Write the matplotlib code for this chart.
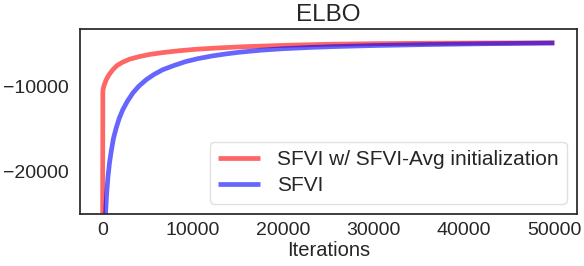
import matplotlib
matplotlib.use("Agg")
import matplotlib.pyplot as plt
import seaborn as sns

sns.set_style("white")
plt.rcParams['font.family'] = ['Liberation Sans', 'DejaVu Sans']

# Data
iters_avg = [0, 30, 60, 120, 250, 400, 700, 1130, 1600, 2240, 3000, 4080, 5200,
             6650, 8300, 10330, 12500, 15120, 18000, 21000, 25000, 30000, 36000,
             42000, 50000]
elbo_avg = [-26000, -10550, -10300, -10000, -9600, -9180, -8600, -8000, -7500,
            -7100, -6750, -6450, -6200, -5980, -5780, -5590, -5450, -5310,
            -5200, -5100, -5000, -4930, -4880, -4850, -4830]

iters_sfvi = [300, 330, 450, 590, 760, 960, 1200, 1510, 1850, 2240, 2750, 3350,
              4000, 4820, 5700, 6650, 7900, 9230, 10600, 12170, 13700, 15120,
              17500, 20000, 23000, 26000, 30000, 36000, 42000, 50000]
elbo_sfvi = [-26000, -24840, -22600, -20660, -19000, -17570, -16100, -14840,
             -13700, -12700, -11700, -10740, -9950, -9180, -8550, -8000, -7500,
             -7030, -6680, -6370, -6130, -5940, -5700, -5520, -5370, -5260,
             -5150, -5030, -4940, -4850]

label_avg = "SFVI w/ SFVI-Avg initialization"
label_sfvi = "SFVI"

fig = plt.figure(figsize=(5.84, 2.66), dpi=100)
ax = fig.add_axes([0.137, 0.1955, 0.851, 0.6955])

ax.plot(iters_avg, elbo_avg, color='red', alpha=0.6, lw=3.4, label=label_avg,
        solid_capstyle='butt')
ax.plot(iters_sfvi, elbo_sfvi, color='blue', alpha=0.6, lw=3.4, label=label_sfvi,
        solid_capstyle='butt')

ax.set_xlim(-2500, 52500)
ax.set_ylim(-25000, -3200)
ax.set_xticks([0, 10000, 20000, 30000, 40000, 50000])
ax.set_yticks([-20000, -10000])
ax.tick_params(axis='both', labelsize=14, colors='.15', length=0)
ax.tick_params(axis='x', pad=6)
ax.tick_params(axis='y', pad=8)
ax.set_title("ELBO", fontsize=17.5, color='.15', pad=6)
ax.set_xlabel("Iterations", fontsize=14.5, color='.15', labelpad=1)
for s in ax.spines.values():
    s.set_color('.15')
    s.set_linewidth(1.25)

leg = ax.legend(loc='lower right', fontsize=15, frameon=True, handlelength=2.0,
                borderaxespad=0.5, labelspacing=0.35)
leg.get_frame().set_edgecolor('0.85')

fig.savefig("out.png", dpi=100)
